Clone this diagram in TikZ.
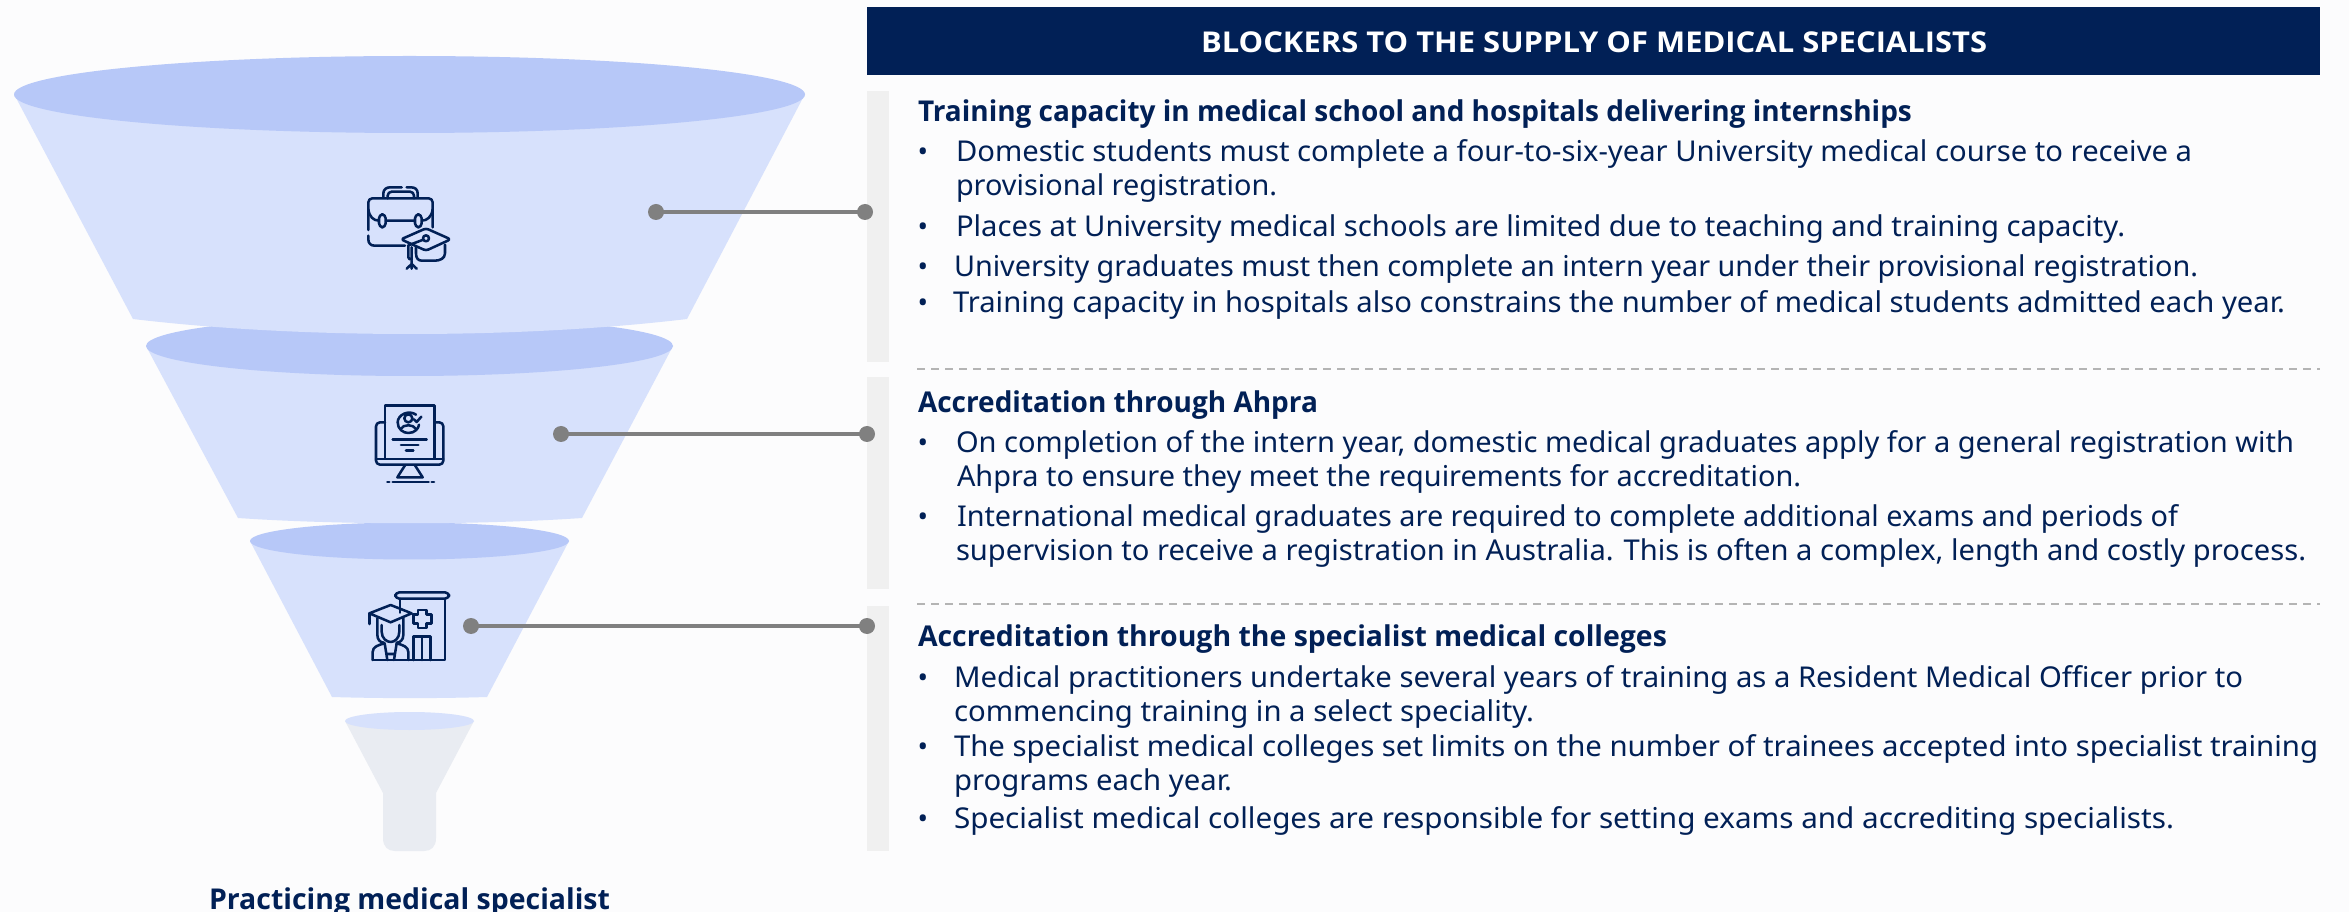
\documentclass[tikz,border=0pt]{standalone}
\usepackage{fontspec}
\usepackage{graphicx}
\setmainfont{Noto Sans}
\newfontfamily\headfont{Open Sans}
\definecolor{navy}{HTML}{012056}
\definecolor{bgc}{HTML}{FCFCFD}
\definecolor{fbody}{HTML}{D7E1FC}
\definecolor{ftop}{HTML}{B7C8F8}
\definecolor{stem}{HTML}{E9ECF2}
\definecolor{bar}{HTML}{F0F0F0}
\definecolor{conn}{HTML}{808080}
\definecolor{dashc}{HTML}{B4B4B4}
\tikzset{
  txt/.style={anchor=base west,inner sep=0pt,outer sep=0pt,yshift=-0.75pt,text=navy,font=\fontsize{21.5pt}{26pt}\selectfont},
  head/.style={txt,font=\fontsize{21.5pt}{26pt}\selectfont\headfont\bfseries},
  bul/.style={anchor=base,inner sep=0pt,outer sep=0pt,yshift=-0.75pt,text=navy,font=\fontsize{21pt}{24pt}\selectfont},
  dot/.style={circle,fill=conn,inner sep=0pt,minimum size=12pt},
  link/.style={draw=conn,line width=3pt},
  sep/.style={draw=dashc,line width=1.5pt,dash pattern=on 6pt off 4.5pt},
  ico/.style={draw=navy,line width=1.9pt,line cap=round,line join=round,fill=none},
}
\newcommand{\fitl}[6][txt]{\node[#1] (#2) at (#3,#4) {\resizebox{\dimexpr(#5pt-#3pt)*3/4\relax}{\height}{#6}};}
\newcommand{\bull}[2]{\node[bul] (#1) at (923,#2) {•};}
\begin{document}
\begin{tikzpicture}[x=0.75pt,y=-0.75pt]
\useasboundingbox (0,0) rectangle (2349,912);
\fill[bgc] (0,0) rectangle (2349,912);
% funnel 4
\fill[stem] (345,721) -- (383,793) -- (383,838) .. controls (383,847) and (388,851) .. (395,851) -- (424,851) .. controls (431,851) and (436,847) .. (436,838) -- (436,793) -- (474,721) -- cycle;
\fill[fbody] (409.5,721) ellipse [x radius=64.5,y radius=9];
% funnel 3
\fill[fbody] (250,541) -- (332,697) .. controls (380,698.5) and (440,698.5) .. (487,697) -- (569,541) -- cycle;
\fill[ftop] (409.5,541) ellipse [x radius=159.5,y radius=18.5];
% funnel 2
\fill[fbody] (146,346) -- (238,518) .. controls (340,525) and (480,525) .. (582,518) -- (673,346) -- cycle;
\fill[ftop] (409.5,346) ellipse [x radius=263.5,y radius=30];
% funnel 1
\fill[fbody] (14,94) -- (133,319) .. controls (300,339) and (520,339) .. (687,319) -- (805,94) -- cycle;
\fill[ftop] (409.5,94.5) ellipse [x radius=395.5,y radius=38.5];
% bars
\fill[bar] (867,91) rectangle (889,362);
\fill[bar] (867,377) rectangle (889,589);
\fill[bar] (867,606) rectangle (889,851);
% header
\node[fill=navy,inner sep=0pt,outer sep=0pt,minimum width=1090pt,minimum height=51pt,anchor=north west] (hdr) at (867,7) {};
\fitl[head,text=white]{hdrt}{1201}{52}{1987}{BLOCKERS TO THE SUPPLY OF MEDICAL SPECIALISTS}
% separators
\coordinate (s1a) at (917,369); \coordinate (s1b) at (2320,369);
\coordinate (s2a) at (917,603.5); \coordinate (s2b) at (2320,603.5);
\draw[sep] (s1a) -- (s1b);
\draw[sep] (s2a) -- (s2b);
% connectors
\node[dot] (d1a) at (656,212) {}; \node[dot] (d1b) at (865,212) {};
\node[dot] (d2a) at (561,434) {}; \node[dot] (d2b) at (867,434) {};
\node[dot] (d3a) at (471,626) {}; \node[dot] (d3b) at (867,626) {};
\draw[link] (d1a.center) -- (d1b.center);
\draw[link] (d2a.center) -- (d2b.center);
\draw[link] (d3a.center) -- (d3b.center);
% text block 1
\fitl[head]{h1}{918}{121}{1912}{Training capacity in medical school and hospitals delivering internships}
\bull{b11}{161}
\fitl{l11}{956}{161}{2192}{Domestic students must complete a four-to-six-year University medical course to receive a}
\fitl{l12}{956}{195}{1277}{provisional registration.}
\bull{b12}{236}
\fitl{l13}{956}{236}{2125}{Places at University medical schools are limited due to teaching and training capacity.}
\bull{b13}{276}
\fitl{l14}{954}{276}{2198}{University graduates must then complete an intern year under their provisional registration.}
\bull{b14}{312}
\fitl{l15}{953}{312}{2285}{Training capacity in hospitals also constrains the number of medical students admitted each year.}
% text block 2
\fitl[head]{h2}{918}{412}{1318}{Accreditation through Ahpra}
\bull{b21}{452}
\fitl{l21}{956}{452}{2294}{On completion of the intern year, domestic medical graduates apply for a general registration with}
\fitl{l22}{957}{486}{1801}{Ahpra to ensure they meet the requirements for accreditation.}
\bull{b22}{526}
\fitl{l23}{957}{526}{2178}{International medical graduates are required to complete additional exams and periods of}
\fitl{l24}{956}{560}{2306}{supervision to receive a registration in Australia. This is often a complex, length and costly process.}
% text block 3
\fitl[head]{h3}{918}{645}{1667}{Accreditation through the specialist medical colleges}
\bull{b31}{686}
\fitl{l31}{954}{686}{2243}{Medical practitioners undertake several years of training as a Resident Medical Officer prior to}
\fitl{l32}{954}{720}{1534}{commencing training in a select speciality.}
\bull{b32}{755}
\fitl{l33}{954}{755}{2318}{The specialist medical colleges set limits on the number of trainees accepted into specialist training}
\fitl{l34}{954}{789}{1232}{programs each year.}
\bull{b33}{827}
\fitl{l35}{954}{827}{2174}{Specialist medical colleges are responsible for setting exams and accrediting specialists.}
% funnel caption
\fitl[head]{cap}{209}{908}{610}{Practicing medical specialist}
% icon 1
\begin{scope}[shift={(340,170)},x=0.25pt,y=-0.25pt]
\draw[ico] (130,82) -- (130,70) .. controls (130,58) and (140,52) .. (150,52) -- (185,52);
\draw[ico] (200,52) -- (213,52) .. controls (225,52) and (233,58) .. (233,70) -- (233,82);
\draw[ico,rounded corners=3pt] (143,85) -- (143,65) -- (222,65) -- (222,85);
\draw[ico,rounded corners=3pt] (85,180) -- (85,85) -- (278,85) -- (278,172);
\draw[ico] (85,197) -- (85,208) .. controls (85,220) and (92,227) .. (104,227) -- (195,227);
\draw[ico] (85,118) .. controls (88,140) and (100,152) .. (117,152) -- (245,152) .. controls (262,152) and (275,140) .. (278,118);
\draw[ico,rounded corners=3pt,fill=fbody] (117,133) rectangle (137,172);
\draw[ico,rounded corners=3pt,fill=fbody] (225,133) rectangle (245,172);
\fill[fbody] (185,208) -- (258,175) -- (332,208) -- (258,242) -- cycle;
\draw[ico,rounded corners=2pt] (183,208) -- (258,175) -- (332,208) -- (258,242) -- cycle;
\draw[ico] (228,232) -- (228,250) (315,224) -- (315,250) .. controls (315,265) and (300,272) .. (285,272) -- (245,272) .. controls (235,272) and (228,265) .. (228,250);
\draw[ico] (258,205) circle [radius=9];
\draw[ico] (250,209) -- (205,226) -- (205,262) .. controls (205,268) and (210,268) .. (215,268) -- (215,232);
\draw[ico] (215,272) -- (215,282) -- (200,296) (215,282) -- (215,296) (215,282) -- (230,296);
\end{scope}
% icon 2
\begin{scope}[shift={(350,390)},x=0.25pt,y=-0.25pt]
\draw[ico] (105,205) -- (105,47) -- (253,47) -- (253,205);
\draw[ico,rounded corners=3pt] (105,97) -- (78,97) -- (78,224) -- (280,224) -- (280,97) -- (253,97);
\draw[ico] (78,207) -- (280,207);
\draw[ico] (165,226) -- (142,262) -- (218,262) -- (195,226);
\draw[ico] (112,276) -- (118,276) (128,276) -- (236,276) (245,276) -- (252,276);
\draw[ico] (198,74) .. controls (175,58) and (143,75) .. (143,97) .. controls (143,118) and (160,129) .. (175,129) .. controls (195,129) and (206,115) .. (207,104);
\draw[ico] (192,88) -- (200,96) -- (214,80);
\draw[ico] (175,85) circle [radius=12];
\draw[ico] (152,117) .. controls (160,102) and (190,102) .. (198,117);
\draw[ico] (128,148) -- (230,148) (153,165) -- (205,165) (168,182) -- (190,182);
\end{scope}
% icon 3
\begin{scope}[shift={(350,580)},x=0.25pt,y=-0.25pt]
\draw[ico,rounded corners=3pt] (136,37) rectangle (297,56);
\draw[ico] (150,56) -- (150,98) (285,56) -- (285,240) -- (68,240);
\draw[ico] (204,90) -- (230,90) -- (230,104) -- (244,104) -- (244,130) -- (230,130) -- (230,144) -- (204,144) -- (204,130) -- (190,130) -- (190,104) -- (204,104) -- cycle;
\draw[ico] (190,240) -- (190,170) -- (242,170) -- (242,240) (216,170) -- (216,240);
\draw[ico] (58,100) -- (122,75) -- (185,100) -- (122,127) -- cycle;
\draw[ico] (58,100) -- (58,132);
\draw[ico] (82,115) -- (82,165) .. controls (82,180) and (92,188) .. (102,188) (160,115) -- (160,165) .. controls (160,180) and (150,188) .. (140,188);
\draw[ico] (95,135) -- (95,155) .. controls (95,175) and (110,186) .. (122,186) .. controls (134,186) and (148,175) .. (148,155) -- (148,135);
\draw[ico] (68,240) -- (68,216) .. controls (68,200) and (85,195) .. (104,190) (175,240) -- (175,216) .. controls (175,200) and (158,195) .. (140,190);
\draw[ico] (104,190) -- (112,240) (140,190) -- (132,240) (112,222) -- (132,222);
\end{scope}
\end{tikzpicture}
\end{document}
